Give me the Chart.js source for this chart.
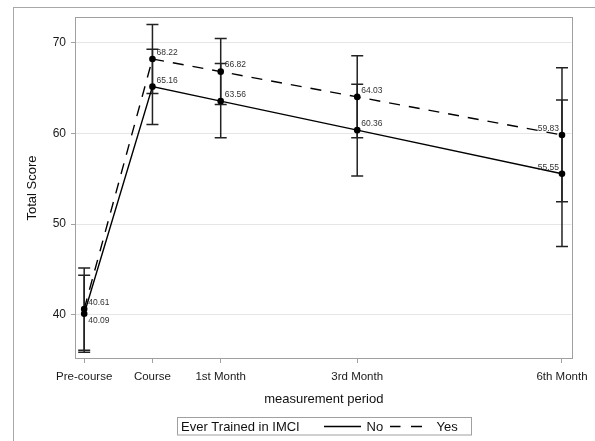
<!DOCTYPE html>
<html>
<head>
<meta charset="utf-8">
<script src="https://cdn.jsdelivr.net/npm/chart.js@4.4.1/dist/chart.umd.min.js"></script>
<style>
  html, body { margin: 0; padding: 0; background: #fff; }
  #wrap { width: 595px; height: 441px; }
</style>
</head>
<body>
<div id="wrap"><canvas id="c" width="595" height="441"></canvas></div>
<script>
// Measurement periods and their position on the time axis (months-like spacing)
const categories = ['Pre-course', 'Course', '1st Month', '3rd Month', '6th Month'];
const periodPos = [0, 1, 2, 4, 7];

// Mean total score with 95% confidence limits, not trained in IMCI
const noMeans = [40.09, 65.16, 63.56, 60.36, 55.55];
const noLower = [35.84, 60.99, 59.51, 55.29, 47.51];
const noUpper = [44.34, 69.30, 67.73, 65.44, 63.68];

// Mean total score with 95% confidence limits, trained in IMCI
const yesMeans = [40.61, 68.22, 66.82, 64.03, 59.83];
const yesLower = [36.07, 64.41, 63.20, 59.51, 52.45];
const yesUpper = [45.15, 72.03, 70.49, 68.57, 67.24];

const yTicks = [40, 50, 60, 70];
const seriesNames = ['No', 'Yes'];
const legendTitle = 'Ever Trained in IMCI';

const FONT = "'Liberation Sans', Arial, sans-serif";
const DASH = [11, 9];

function pts(vals) {
  return vals.map((v, i) => ({ x: periodPos[i], y: v }));
}

const bands = [
  { lower: noLower, upper: noUpper },
  { lower: yesLower, upper: yesUpper }
];

// White page with the light outer frame
const framePlugin = {
  id: 'frame',
  beforeDraw(chart) {
    const ctx = chart.ctx;
    ctx.save();
    ctx.fillStyle = '#fff';
    ctx.fillRect(0, 0, chart.width, chart.height);
    ctx.strokeStyle = '#a8a8a8';
    ctx.lineWidth = 1;
    ctx.strokeRect(13.5, 7.5, chart.width + 10, chart.height + 10);
    ctx.restore();
  },
  afterDraw(chart) {
    const a = chart.chartArea;
    const ctx = chart.ctx;
    ctx.save();
    ctx.strokeStyle = '#a0a0a0';
    ctx.lineWidth = 1;
    ctx.strokeRect(Math.round(a.left) - 0.5, Math.round(a.top) + 0.5,
                   Math.round(a.right - a.left) + 1, Math.round(a.bottom - a.top) - 1);
    ctx.restore();
  }
};

// Confidence-limit bars drawn beneath the lines and markers
const errorBarPlugin = {
  id: 'errorBars',
  beforeDatasetsDraw(chart) {
    const ctx = chart.ctx;
    const xs = chart.scales.x, ys = chart.scales.y;
    ctx.save();
    ctx.strokeStyle = '#222';
    ctx.lineWidth = 1.5;
    bands.forEach(b => {
      periodPos.forEach((p, i) => {
        const x = xs.getPixelForValue(p);
        const y1 = ys.getPixelForValue(b.lower[i]);
        const y2 = ys.getPixelForValue(b.upper[i]);
        ctx.beginPath();
        ctx.moveTo(x, y1); ctx.lineTo(x, y2);
        ctx.moveTo(x - 6, y1); ctx.lineTo(x + 6, y1);
        ctx.moveTo(x - 6, y2); ctx.lineTo(x + 6, y2);
        ctx.stroke();
      });
    });
    ctx.restore();
  },
  afterDatasetsDraw(chart) {
    // value labels next to each mean
    const ctx = chart.ctx;
    ctx.save();
    ctx.font = '8.5px ' + FONT;
    ctx.fillStyle = '#333';
    ctx.textBaseline = 'middle';
    chart.data.datasets.forEach((ds, di) => {
      const meta = chart.getDatasetMeta(di);
      meta.data.forEach((pt, i) => {
        const v = ds.data[i].y;
        const txt = v.toFixed(2);
        const last = i === periodPos.length - 1;
        let below = false;
        if (i === 0) {
          const other = chart.data.datasets[1 - di].data[i].y;
          below = v < other;
        }
        ctx.textAlign = last ? 'right' : 'left';
        const tx = last ? pt.x - 3 : pt.x + 4;
        const ty = below ? pt.y + 7 : pt.y - 6.5;
        ctx.fillText(txt, tx, ty);
      });
    });
    ctx.restore();
  }
};

// Legend strip below the axis
const legendPlugin = {
  id: 'legendStrip',
  afterDraw(chart) {
    const ctx = chart.ctx;
    ctx.save();
    ctx.strokeStyle = '#a0a0a0';
    ctx.lineWidth = 1;
    ctx.strokeRect(177.5, 417.5, 294, 17.5);
    ctx.font = '13px ' + FONT;
    ctx.fillStyle = '#111';
    ctx.textBaseline = 'middle';
    ctx.textAlign = 'left';
    ctx.fillText(legendTitle, 181, 427);
    ctx.strokeStyle = '#000';
    ctx.lineWidth = 1.3;
    ctx.beginPath();
    ctx.moveTo(324, 426.5); ctx.lineTo(361, 426.5);
    ctx.stroke();
    ctx.fillText(seriesNames[0], 366.5, 427);
    ctx.beginPath();
    ctx.moveTo(390, 426.5); ctx.lineTo(400.5, 426.5);
    ctx.moveTo(411, 426.5); ctx.lineTo(422, 426.5);
    ctx.stroke();
    ctx.fillText(seriesNames[1], 436.5, 427);
    ctx.restore();
  }
};

new Chart(document.getElementById('c'), {
  type: 'line',
  data: {
    datasets: [
      {
        label: seriesNames[0],
        data: pts(noMeans),
        borderColor: '#000',
        backgroundColor: '#000',
        borderWidth: 1.4,
        pointRadius: 3.3,
        pointHoverRadius: 3.3,
        pointBackgroundColor: '#000',
        pointBorderWidth: 0,
        tension: 0,
        fill: false
      },
      {
        label: seriesNames[1],
        data: pts(yesMeans),
        borderColor: '#000',
        backgroundColor: '#000',
        borderWidth: 1.4,
        borderDash: DASH,
        pointRadius: 3.3,
        pointHoverRadius: 3.3,
        pointBackgroundColor: '#000',
        pointBorderWidth: 0,
        tension: 0,
        fill: false
      }
    ]
  },
  options: {
    responsive: false,
    animation: false,
    events: [],
    layout: { padding: { left: 0, top: 17, right: 23, bottom: 34 } },
    plugins: {
      legend: { display: false },
      tooltip: { enabled: false },
      title: { display: false }
    },
    scales: {
      x: {
        type: 'linear',
        min: -0.12,
        max: 7.14,
        afterFit(scale) { scale.height = 48; },
        afterBuildTicks(scale) { scale.ticks = periodPos.map(v => ({ value: v })); },
        grid: { drawOnChartArea: false, drawTicks: true, tickLength: 4, tickColor: '#a0a0a0' },
        border: { display: false },
        ticks: {
          autoSkip: false,
          maxRotation: 0,
          padding: 7,
          color: '#1a1a1a',
          font: { family: FONT, size: 11.5 },
          callback(v) { const i = periodPos.indexOf(v); return i >= 0 ? categories[i] : ''; }
        },
        title: {
          display: true,
          text: 'measurement period',
          color: '#111',
          font: { family: FONT, size: 13 },
          padding: { top: 0, bottom: 0 }
        }
      },
      y: {
        min: 35.1,
        max: 72.85,
        afterFit(scale) { scale.width = 76; },
        afterBuildTicks(scale) { scale.ticks = yTicks.map(v => ({ value: v })); },
        grid: { color: '#e6e6e6', lineWidth: 1, drawTicks: true, tickLength: 5, tickColor: '#a0a0a0' },
        border: { display: false },
        ticks: {
          padding: 5,
          color: '#1a1a1a',
          font: { family: FONT, size: 12 }
        },
        title: {
          display: true,
          text: 'Total Score',
          color: '#111',
          font: { family: FONT, size: 13 },
          padding: { top: 25, bottom: 0 }
        }
      }
    }
  },
  plugins: [framePlugin, errorBarPlugin, legendPlugin]
});
</script>
</body>
</html>
